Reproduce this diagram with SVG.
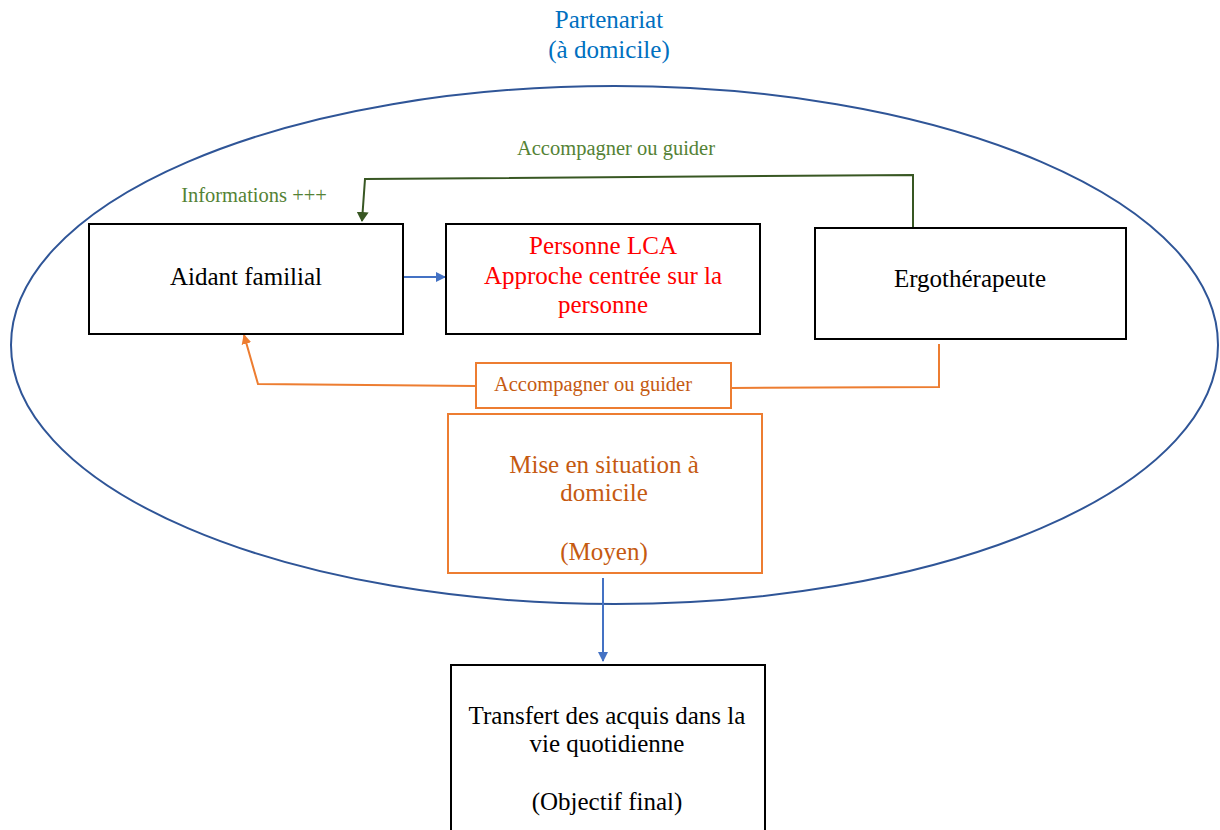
<svg xmlns="http://www.w3.org/2000/svg" width="1220" height="830" viewBox="0 0 1220 830">
<style>
text{font-family:"Liberation Serif","Times New Roman",serif;text-anchor:middle}
.box{fill:#fff;stroke:#000;stroke-width:2}
.obox{fill:#fff;stroke:#ED7D31;stroke-width:2}
.t{font-size:25px;fill:#000}
.red{font-size:25px;fill:#FF0000}
.or{font-size:25px;fill:#C55A11}
.grn{font-size:20.5px;fill:#548235}
.blue{font-size:25px;fill:#0070C0}
</style>
<defs>
<marker id="ab" markerWidth="10" markerHeight="10" refX="9" refY="5" orient="auto" markerUnits="userSpaceOnUse"><path d="M0,0 L10,5 L0,10 z" fill="#4472C4"/></marker>
<marker id="ag" markerWidth="10" markerHeight="12" refX="9" refY="6" orient="auto" markerUnits="userSpaceOnUse"><path d="M0,0 L10,6 L0,12 z" fill="#385723"/></marker>
<marker id="ao" markerWidth="10" markerHeight="10" refX="9" refY="5" orient="auto" markerUnits="userSpaceOnUse"><path d="M0,0 L10,5 L0,10 z" fill="#ED7D31"/></marker>
</defs>
<rect width="1220" height="830" fill="#fff"/>
<g id="title">
<text class="blue" x="609" y="28">Partenariat</text>
<text class="blue" x="609" y="58">(à domicile)</text>
</g>
<g id="partenariat-ellipse"><ellipse cx="614.5" cy="345" rx="603.5" ry="259" fill="none" stroke="#2F5597" stroke-width="2"/></g>
<g id="connectors">
<polyline points="913,228 913,175 365,179 362,221" fill="none" stroke="#385723" stroke-width="2" marker-end="url(#ag)"/>
<line x1="403" y1="277" x2="445" y2="277" stroke="#4472C4" stroke-width="2" marker-end="url(#ab)"/>
<polyline points="939,344 939,387 731,388" fill="none" stroke="#ED7D31" stroke-width="2"/>
<polyline points="476,386 258,384 244,335" fill="none" stroke="#ED7D31" stroke-width="2" marker-end="url(#ao)"/>
<line x1="603" y1="578" x2="603" y2="661" stroke="#4472C4" stroke-width="2" marker-end="url(#ab)"/>
<text class="grn" x="616" y="155">Accompagner ou guider</text>
<text class="grn" x="254" y="202">Informations +++</text>
</g>
<g id="aidant"><rect class="box" x="89" y="224" width="314" height="110"/><text class="t" x="246" y="285">Aidant familial</text></g>
<g id="personne"><rect class="box" x="446" y="224" width="314" height="110"/>
<text class="red" x="603" y="254">Personne LCA</text>
<text class="red" x="603" y="284">Approche centrée sur la</text>
<text class="red" x="603" y="313">personne</text></g>
<g id="ergo"><rect class="box" x="815" y="228" width="311" height="111"/><text class="t" x="970" y="287">Ergothérapeute</text></g>
<g id="accompagner-label"><rect class="obox" x="476" y="363" width="255" height="45"/><text x="593" y="391" style="font-size:20.5px;fill:#C55A11">Accompagner ou guider</text></g>
<g id="mise"><rect class="obox" x="448" y="414" width="314" height="159"/>
<text class="or" x="604" y="473">Mise en situation à</text>
<text class="or" x="604" y="501">domicile</text>
<text class="or" x="604" y="560">(Moyen)</text></g>
<g id="transfert"><rect class="box" x="451" y="665" width="314" height="190"/>
<text class="t" x="607" y="724">Transfert des acquis dans la</text>
<text class="t" x="607" y="752">vie quotidienne</text>
<text class="t" x="607" y="810">(Objectif final)</text></g>
</svg>
